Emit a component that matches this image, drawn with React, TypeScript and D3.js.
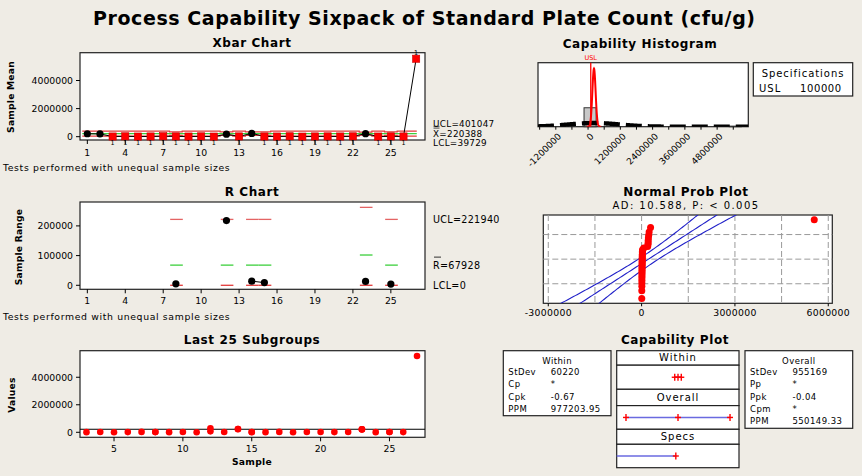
import React from 'react';
import * as d3 from 'd3';

// Standard plate count (cfu/g), one array per subgroup 1..27
const subgroupData: number[][] = [
  [210000], [195000], [12000], [25000], [8000], [15000], [30000],
  [14000, 19000], [10000], [22000], [6000], [70000, 288000], [18000],
  [228000, 242000], [9000, 18000], [11000], [27000], [5000], [16000],
  [20000], [13000], [24000], [205000, 218000, 212000], [9000],
  [17000, 21000], [14000], [5550000],
];

const grandMean = 220388;
const stdevWithin = 60220;
const stdevOverall = 955169;
const usl = 100000;

const meanLimitLabels = ['UCL=401047', 'X=220388', 'LCL=39729'];
const rangeLimitLabels = ['UCL=221940', 'R=67928', 'LCL=0'];
const adText = 'AD: 10.588, P: < 0.005';

const withinStats: [string, string][] = [['StDev', '60220'], ['Cp', '*'], ['Cpk', '-0.67'], ['PPM', '977203.95']];
const overallStats: [string, string][] = [['StDev', '955169'], ['Pp', '*'], ['Ppk', '-0.04'], ['Cpm', '*'], ['PPM', '550149.33']];

const chartTicks = [1, 4, 7, 10, 13, 16, 19, 22, 25];
const meanTicks = [0, 2000000, 4000000];
const rangeTicks = [0, 100000, 200000];
const lastTicks = [5, 10, 15, 20, 25];
const histTicks = [-1800000, -1200000, -600000, 0, 600000, 1200000, 1800000, 2400000, 3000000, 3600000, 4200000, 4800000, 5400000];
const histLabels = [-1200000, 0, 1200000, 2400000, 3600000, 4800000];
const probTicks = [-3000000, 0, 3000000, 6000000];
const probGrid = [-3000000, -1500000, 0, 1500000, 3000000, 4500000, 6000000];
const probPercents = [10, 50, 90];

// control chart constants by subgroup size
const d2: Record<number, number> = { 2: 1.128, 3: 1.693 };
const d3f: Record<number, number> = { 2: 0.8525, 3: 0.8884 };

const FONT = "'DejaVu Sans', Verdana, sans-serif";
const BG = '#efece5';
const RED = '#ff0000';
const LIM_RED = '#e23a3a';
const GREEN = '#3ccf3c';
const BLUE = '#2020c8';

const subgroups = subgroupData.map((vals, i) => {
  const n = vals.length;
  const half = (3 * stdevWithin) / Math.sqrt(n);
  return {
    id: i + 1,
    n,
    vals,
    mean: d3.mean(vals) as number,
    range: (d3.max(vals) as number) - (d3.min(vals) as number),
    ucl: grandMean + half,
    lcl: grandMean - half,
  };
});
const allValues = subgroupData.flat();

function normInv(p: number): number {
  const a = [-39.69683028665376, 220.9460984245205, -275.9285104469687, 138.357751867269, -30.66479806614716, 2.506628277459239];
  const b = [-54.47609879822406, 161.5858368580409, -155.6989798598866, 66.80131188771972, -13.28068155288572];
  const c = [-0.007784894002430293, -0.3223964580411365, -2.400758277161838, -2.549732539343734, 4.374664141464968, 2.938163982698783];
  const d = [0.007784695709041462, 0.3224671290700398, 2.445134137142996, 3.754408661907416];
  const lo = 0.02425;
  if (p < lo || p > 1 - lo) {
    const q = Math.sqrt(-2 * Math.log(p < lo ? p : 1 - p));
    const v = (((((c[0] * q + c[1]) * q + c[2]) * q + c[3]) * q + c[4]) * q + c[5]) / ((((d[0] * q + d[1]) * q + d[2]) * q + d[3]) * q + 1);
    return p < lo ? v : -v;
  }
  const q = p - 0.5;
  const r = q * q;
  return ((((((a[0] * r + a[1]) * r + a[2]) * r + a[3]) * r + a[4]) * r + a[5]) * q) / (((((b[0] * r + b[1]) * r + b[2]) * r + b[3]) * r + b[4]) * r + 1);
}

const normPdf = (v: number, mu: number, sd: number) =>
  Math.exp(-0.5 * ((v - mu) / sd) ** 2) / (sd * Math.sqrt(2 * Math.PI));

const Title = ({ x, y, children }: { x: number; y: number; children: string }) => (
  <text x={x} y={y} textAnchor="middle" dominantBaseline="central" fontFamily={FONT} fontWeight="bold" fontSize={12} letterSpacing={0.6}>
    {children}
  </text>
);

const YLabel = ({ x, y, children }: { x: number; y: number; children: string }) => (
  <text transform={`translate(${x},${y}) rotate(-90)`} textAnchor="middle" dominantBaseline="central" fontFamily={FONT} fontWeight="bold" fontSize={9.2} letterSpacing={0.2}>
    {children}
  </text>
);

const Plus = ({ x, y }: { x: number; y: number }) => (
  <g stroke={RED} strokeWidth={1.4}>
    <line x1={x - 3} x2={x + 3} y1={y} y2={y} />
    <line x1={x} x2={x} y1={y - 3.5} y2={y + 3.5} />
  </g>
);

const Footnote = ({ y }: { y: number }) => (
  <text x={3} y={y} dominantBaseline="central" fontFamily={FONT} fontSize={9.3} letterSpacing={0.65}>
    Tests performed with unequal sample sizes
  </text>
);

function XAxisTicks({ ticks, x, y0, labelY }: { ticks: number[]; x: (v: number) => number; y0: number; labelY: number }) {
  return (
    <g>
      {ticks.map((t) => (
        <g key={t}>
          <line x1={x(t)} x2={x(t)} y1={y0} y2={y0 + 4} stroke="#000" />
          <text x={x(t)} y={labelY} textAnchor="middle" dominantBaseline="central" fontFamily={FONT} fontSize={9.3}>
            {t}
          </text>
        </g>
      ))}
    </g>
  );
}

function YAxisTicks({ ticks, y, x0 }: { ticks: number[]; y: (v: number) => number; x0: number }) {
  return (
    <g>
      {ticks.map((t) => (
        <g key={t}>
          <line x1={x0 - 4} x2={x0} y1={y(t)} y2={y(t)} stroke="#000" />
          <text x={x0 - 7} y={y(t)} textAnchor="end" dominantBaseline="central" fontFamily={FONT} fontSize={9.3}>
            {t}
          </text>
        </g>
      ))}
    </g>
  );
}

function XbarChart() {
  const L = 80, R = 425, T = 52.7, B = 140;
  const x = d3.scaleLinear().domain([0.42, 27.7]).range([L, R]);
  const y = d3.scaleLinear().domain([-236000, 5980000]).range([B, T]);
  const stepPath = (acc: (s: (typeof subgroups)[number]) => number) => {
    const pts: [number, number][] = [];
    subgroups.forEach((s) => {
      pts.push([x(Math.max(s.id - 0.5, 0.6)), y(acc(s))]);
      pts.push([x(Math.min(s.id + 0.5, 27.05)), y(acc(s))]);
    });
    return d3.line()(pts) as string;
  };
  const line = d3.line<(typeof subgroups)[number]>().x((s) => x(s.id)).y((s) => y(s.mean));
  // the three limit labels sit around y(grandMean), nudged apart so they stay legible
  const mid = y(grandMean);
  const labelYs = [mid - 9.5, mid, mid + 9.5];
  return (
    <g>
      <Title x={252} y={43}>Xbar Chart</Title>
      <rect x={L} y={T} width={R - L} height={B - T} fill="#fff" stroke="#222" strokeWidth={1.2} />
      <path d={stepPath((s) => s.ucl)} fill="none" stroke={LIM_RED} strokeWidth={1.2} />
      <path d={stepPath(() => grandMean)} fill="none" stroke={GREEN} strokeWidth={1.2} />
      <path d={stepPath((s) => s.lcl)} fill="none" stroke={LIM_RED} strokeWidth={1.2} />
      <path d={line(subgroups) as string} fill="none" stroke="#000" strokeWidth={1} />
      {subgroups.map((s) => {
        const out = s.mean > s.ucl || s.mean < s.lcl;
        const cx = x(s.id), cy = y(s.mean);
        return (
          <g key={s.id}>
            {out ? (
              <rect x={cx - 3.6} y={cy - 3.6} width={7.2} height={7.2} fill={RED} stroke="#c00" strokeWidth={0.6} />
            ) : (
              <circle cx={cx} cy={cy} r={3.6} fill="#000" />
            )}
            {out && (
              <text x={cx} y={s.mean > s.ucl ? cy - 4 : cy + 8.6} textAnchor="middle" fontFamily={FONT} fontSize={6.4}>
                1
              </text>
            )}
          </g>
        );
      })}
      <XAxisTicks ticks={chartTicks} x={x} y0={B} labelY={152} />
      <YAxisTicks ticks={meanTicks} y={y} x0={L} />
      <YLabel x={10} y={97}>Sample Mean</YLabel>
      {meanLimitLabels.map((t, i) => (
        <text key={t} x={433} y={labelYs[i]} dominantBaseline="central" fontFamily={FONT} fontSize={8.8} letterSpacing={0.3}>
          {t}
        </text>
      ))}
      <line x1={433.5} x2={439.5} y1={mid - 5.5} y2={mid - 5.5} stroke="#000" strokeWidth={0.7} />
      <line x1={433.5} x2={439.5} y1={mid - 7.3} y2={mid - 7.3} stroke="#000" strokeWidth={0.7} />
      <Footnote y={167} />
    </g>
  );
}

function RChart() {
  const L = 80, R = 425, T = 202, B = 289.3;
  const x = d3.scaleLinear().domain([0.42, 27.7]).range([L, R]);
  const y = d3.scaleLinear().domain([-13500, 280500]).range([B, T]);
  const ranged = subgroups
    .filter((s) => s.n > 1)
    .map((s) => {
      const center = d2[s.n] * stdevWithin;
      return { ...s, center, rUcl: center + 3 * d3f[s.n] * stdevWithin, rLcl: Math.max(0, center - 3 * d3f[s.n] * stdevWithin) };
    });
  const seg = (s: (typeof ranged)[number], v: number, color: string) => (
    <line x1={x(s.id - 0.45)} x2={x(s.id + 0.55)} y1={y(v)} y2={y(v)} stroke={color} strokeWidth={1.3} />
  );
  const rLabelYs = [y(221940), y(67928), y(0)];
  return (
    <g>
      <Title x={252} y={192}>R Chart</Title>
      <rect x={L} y={T} width={R - L} height={B - T} fill="#fff" stroke="#222" strokeWidth={1.2} />
      {ranged.map((s) => (
        <g key={s.id}>
          {seg(s, s.rUcl, '#e46464')}
          {seg(s, s.center, GREEN)}
          {seg(s, s.rLcl, LIM_RED)}
        </g>
      ))}
      {ranged.map((s, i) => {
        const next = ranged[i + 1];
        return next && next.id === s.id + 1 ? (
          <line key={s.id} x1={x(s.id)} y1={y(s.range)} x2={x(next.id)} y2={y(next.range)} stroke="#000" />
        ) : null;
      })}
      {ranged.map((s) => (
        <circle key={s.id} cx={x(s.id)} cy={y(s.range)} r={3.6} fill="#000" />
      ))}
      <XAxisTicks ticks={chartTicks} x={x} y0={B} labelY={300} />
      <YAxisTicks ticks={rangeTicks} y={y} x0={L} />
      <YLabel x={18} y={247}>Sample Range</YLabel>
      {rangeLimitLabels.map((t, i) => (
        <text key={t} x={433} y={rLabelYs[i]} dominantBaseline="central" fontFamily={FONT} fontSize={9.6} letterSpacing={0.3}>
          {t}
        </text>
      ))}
      <line x1={434} x2={441} y1={rLabelYs[1] - 8} y2={rLabelYs[1] - 8} stroke="#000" strokeWidth={0.8} />
      <Footnote y={316} />
    </g>
  );
}

function LastSubgroups() {
  const L = 80, R = 425, T = 350.7, B = 437.3;
  const x = d3.scaleLinear().domain([2.53, 27.58]).range([L, R]);
  const y = d3.scaleLinear().domain([-364000, 5930000]).range([B, T]);
  const shown = subgroups.slice(-25);
  return (
    <g>
      <Title x={252} y={339.5}>Last 25 Subgroups</Title>
      <rect x={L} y={T} width={R - L} height={B - T} fill="#fff" stroke="#222" strokeWidth={1.2} />
      <line x1={L} x2={R} y1={y(grandMean)} y2={y(grandMean)} stroke="#000" strokeWidth={1} />
      {shown.map((s) =>
        s.vals.map((v, j) => <circle key={`${s.id}-${j}`} cx={x(s.id)} cy={y(v)} r={3.3} fill={RED} />)
      )}
      <XAxisTicks ticks={lastTicks} x={x} y0={B} labelY={448.5} />
      <YAxisTicks ticks={meanTicks} y={y} x0={L} />
      <YLabel x={11} y={395}>Values</YLabel>
      <text x={252} y={461} textAnchor="middle" dominantBaseline="central" fontFamily={FONT} fontWeight="bold" fontSize={9.2} letterSpacing={0.3}>
        Sample
      </text>
    </g>
  );
}

function CapabilityHistogram() {
  const L = 538, R = 748.3, T = 62.7, B = 126.7;
  const x = d3.scaleLinear().domain([-1862000, 5959000]).range([L, R]);
  const binWidth = 450000;
  const bins = d3.bin().domain([-1950000, 6000000]).thresholds(d3.range(-1950000, 6000000, binWidth))(allValues);
  const n = allValues.length;
  const peak = n * binWidth * normPdf(grandMean, grandMean, stdevWithin);
  const y = d3.scaleLinear().domain([0, peak * 1.1]).range([B, T]);
  const within = d3.range(-4.5, 4.51, 0.1).map((z) => {
    const v = grandMean + z * stdevWithin;
    return [x(v), y(n * binWidth * normPdf(v, grandMean, stdevWithin))] as [number, number];
  });
  const overall = d3.range(-1862000, 5959000, 20000).map((v) => [x(v), y(n * binWidth * normPdf(v, grandMean, stdevOverall))] as [number, number]);
  return (
    <g>
      <defs>
        <clipPath id="histClip">
          <rect x={L} y={T - 6} width={R - L} height={B - T + 6} />
        </clipPath>
      </defs>
      <Title x={640} y={43.5}>Capability Histogram</Title>
      <rect x={L} y={T} width={R - L} height={B - T} fill="#fff" stroke="#222" strokeWidth={1.2} />
      {bins
        .filter((b) => b.length > 0)
        .map((b) => (
          <rect key={b.x0} x={x(b.x0 as number)} y={y(b.length)} width={x(b.x1 as number) - x(b.x0 as number)} height={B - y(b.length)} fill="#c8c8c8" stroke="#333" strokeWidth={1} />
        ))}
      <g clipPath="url(#histClip)">
        <path d={d3.line()(overall) as string} fill="none" stroke="#000" strokeWidth={4.4} strokeDasharray="16,6" />
        <path d={d3.line()(within) as string} fill="none" stroke={RED} strokeWidth={2} />
      </g>
      <line x1={x(usl)} x2={x(usl)} y1={T} y2={B} stroke={RED} strokeWidth={1.3} />
      <text x={x(usl)} y={58} textAnchor="middle" dominantBaseline="central" fontFamily={FONT} fontSize={6.5} fill={RED}>
        USL
      </text>
      {histTicks.map((t) => (
        <line key={t} x1={x(t)} x2={x(t)} y1={B} y2={B + 3} stroke="#000" />
      ))}
      {histLabels.map((t) => (
        <text key={t} transform={`translate(${x(t) + 4},${B + 8}) rotate(-45)`} textAnchor="end" dominantBaseline="central" fontFamily={FONT} fontSize={9}>
          {t}
        </text>
      ))}
      <rect x={753.3} y={62.7} width={99.4} height={33.3} fill="#fff" stroke="#222" strokeWidth={1.2} />
      <text x={803} y={73.5} textAnchor="middle" dominantBaseline="central" fontFamily={FONT} fontSize={10} letterSpacing={0.95}>
        Specifications
      </text>
      <text x={759} y={88.3} dominantBaseline="central" fontFamily={FONT} fontSize={10} letterSpacing={1}>
        USL
      </text>
      <text x={800} y={88.3} dominantBaseline="central" fontFamily={FONT} fontSize={10} letterSpacing={0.6}>
        {usl}
      </text>
    </g>
  );
}

function NormalProbPlot() {
  const L = 543.3, R = 832.3, T = 215, B = 303.3;
  const x = d3.scaleLinear().domain([-3160000, 6130000]).range([L, R]);
  const y = d3.scaleLinear().domain([-2.3, 2.3]).range([B, T]);
  const sorted = [...allValues].sort((a, b) => a - b);
  const n = sorted.length;
  const pts = sorted.map((v, i) => ({ v, z: normInv((i + 1 - 0.3) / (n + 0.4)) }));
  const zs = d3.range(-2.4, 2.41, 0.05);
  const band = (sign: number) =>
    d3.line()(
      zs.map((z) => {
        const half = 1.96 * stdevOverall * Math.sqrt((1 + (z * z) / 2) / n);
        return [x(grandMean + z * stdevOverall + sign * half), y(z)] as [number, number];
      })
    ) as string;
  return (
    <g>
      <defs>
        <clipPath id="probClip">
          <rect x={L} y={T} width={R - L} height={B - T} />
        </clipPath>
      </defs>
      <Title x={686} y={192}>Normal Prob Plot</Title>
      <text x={686} y={205} textAnchor="middle" dominantBaseline="central" fontFamily={FONT} fontSize={10} letterSpacing={1.45}>
        {adText}
      </text>
      <rect x={L} y={T} width={R - L} height={B - T} fill="#fff" stroke="#222" strokeWidth={1.2} />
      <g stroke="#9a9a9a" strokeWidth={1} strokeDasharray="6,3">
        {probGrid.map((g) => (
          <line key={g} x1={x(g)} x2={x(g)} y1={T} y2={B} />
        ))}
        {probPercents.map((p) => (
          <line key={p} x1={L} x2={R} y1={y(normInv(p / 100))} y2={y(normInv(p / 100))} />
        ))}
      </g>
      <g clipPath="url(#probClip)" fill="none" stroke={BLUE} strokeWidth={1.1}>
        <path d={band(-1)} />
        <path d={band(0)} />
        <path d={band(1)} />
      </g>
      {pts.map((p, i) => (
        <circle key={i} cx={x(p.v)} cy={y(p.z)} r={3.5} fill={RED} />
      ))}
      {probTicks.map((t) => (
        <g key={t}>
          <line x1={x(t)} x2={x(t)} y1={B} y2={B + 3} stroke="#000" />
          <text x={x(t)} y={312.5} textAnchor="middle" dominantBaseline="central" fontFamily={FONT} fontSize={9.3} letterSpacing={0.3}>
            {t}
          </text>
        </g>
      ))}
    </g>
  );
}

function StatBox({ x0, y0, w, h, heading, rows }: { x0: number; y0: number; w: number; h: number; heading: string; rows: [string, string][] }) {
  return (
    <g fontFamily={FONT} fontSize={8.5} letterSpacing={0.45}>
      <rect x={x0} y={y0} width={w} height={h} fill="#fff" stroke="#222" strokeWidth={1.2} />
      <text x={x0 + w / 2} y={y0 + 10} textAnchor="middle" dominantBaseline="central">
        {heading}
      </text>
      {rows.map(([k, v], i) => (
        <g key={k + i}>
          <text x={x0 + 5} y={y0 + 21.3 + i * 12.3} dominantBaseline="central">
            {k}
          </text>
          <text x={x0 + 47.4} y={y0 + 21.3 + i * 12.3} dominantBaseline="central">
            {v}
          </text>
        </g>
      ))}
    </g>
  );
}

function CapabilityPlot() {
  const L = 616.7, R = 739;
  const x = d3.scaleLinear().domain([-3157000, 3580000]).range([L, R]);
  const rows = [
    { label: 'Within', top: 350.7, head: 14.5, body: 24.1 },
    { label: 'Overall', top: 389.3, head: 16.3, body: 23.7 },
    { label: 'Specs', top: 429.3, head: 15, body: 23.4 },
  ];
  const withinLo = grandMean - 3 * stdevWithin, withinHi = grandMean + 3 * stdevWithin;
  const overallLo = grandMean - 3 * stdevOverall, overallHi = grandMean + 3 * stdevOverall;
  const mid = (r: (typeof rows)[number]) => r.top + r.head + r.body / 2;
  return (
    <g>
      <Title x={675} y={339.5}>Capability Plot</Title>
      <StatBox x0={503.3} y0={350.7} w={107.7} h={65} heading="Within" rows={withinStats} />
      <StatBox x0={745} y0={350.7} w={107.7} h={77.6} heading="Overall" rows={overallStats} />
      {rows.map((r) => (
        <g key={r.label}>
          <rect x={L} y={r.top} width={R - L} height={r.head} fill="#fff" stroke="#222" strokeWidth={1.2} />
          <rect x={L} y={r.top + r.head} width={R - L} height={r.body} fill="#fff" stroke="#222" strokeWidth={1.2} />
          <text x={678} y={r.top + r.head / 2} textAnchor="middle" dominantBaseline="central" fontFamily={FONT} fontSize={10} letterSpacing={1}>
            {r.label}
          </text>
        </g>
      ))}
      <line x1={x(withinLo)} x2={x(withinHi)} y1={mid(rows[0])} y2={mid(rows[0])} stroke={BLUE} strokeWidth={1.4} />
      {[withinLo, grandMean, withinHi].map((v) => <Plus key={v} x={x(v)} y={mid(rows[0])} />)}
      <line x1={x(overallLo)} x2={x(overallHi)} y1={mid(rows[1])} y2={mid(rows[1])} stroke="#6a6ae0" strokeWidth={1.6} />
      {[overallLo, grandMean, overallHi].map((v) => <Plus key={v} x={x(v)} y={mid(rows[1])} />)}
      <line x1={L} x2={x(usl)} y1={mid(rows[2])} y2={mid(rows[2])} stroke="#6a6ae0" strokeWidth={1.6} />
      <Plus x={x(usl)} y={mid(rows[2])} />
    </g>
  );
}

export default function App() {
  return (
    <svg width={862} height={476} style={{ position: 'fixed', left: 0, top: 0 }} xmlns="http://www.w3.org/2000/svg">
      <rect width={862} height={476} fill={BG} />
      <text x={424} y={18} textAnchor="middle" dominantBaseline="central" fontFamily={FONT} fontWeight="bold" fontSize={19} textLength={662} lengthAdjust="spacing">
        Process Capability Sixpack of Standard Plate Count (cfu/g)
      </text>
      <XbarChart />
      <RChart />
      <LastSubgroups />
      <CapabilityHistogram />
      <NormalProbPlot />
      <CapabilityPlot />
    </svg>
  );
}
